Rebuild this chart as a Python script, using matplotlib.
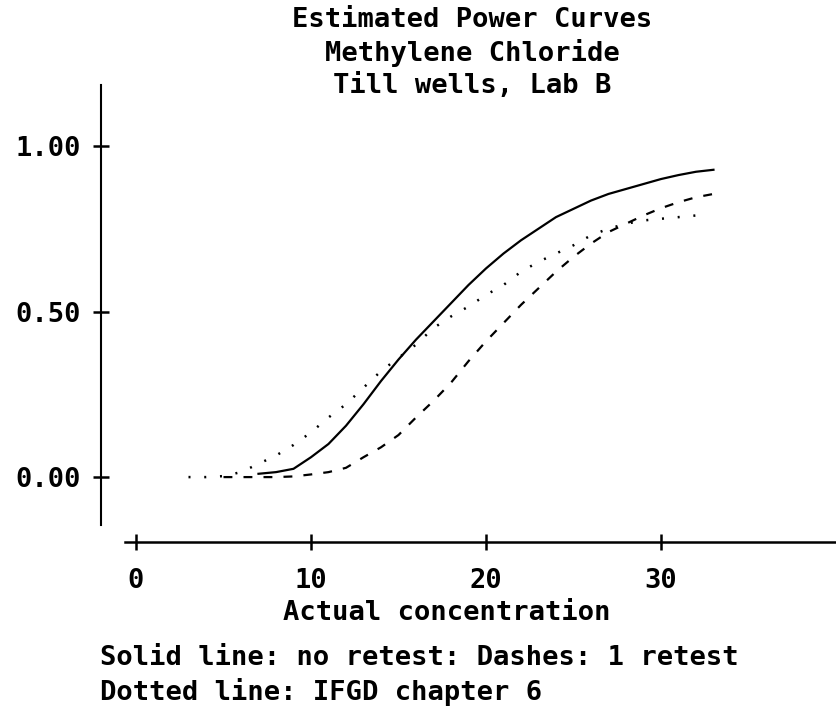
import matplotlib.pyplot as plt

# power curve estimates, read per unit of concentration
solid_x = [7, 8, 9, 10, 11, 12, 13, 14, 15, 16, 17, 18, 19, 20,
           21, 22, 23, 24, 25, 26, 27, 28, 29, 30, 31, 32, 33]
solid_y = [0.01, 0.015, 0.025, 0.06, 0.10, 0.155, 0.22, 0.29, 0.355, 0.415, 0.47, 0.525, 0.58, 0.63,
           0.675, 0.715, 0.75, 0.785, 0.81, 0.835, 0.855, 0.87, 0.885, 0.90, 0.912, 0.922, 0.928]

dash_x = [5, 6, 7, 8, 9, 10, 11, 12, 13, 14, 15, 16, 17, 18, 19,
          20, 21, 22, 23, 24, 25, 26, 27, 28, 29, 30, 31, 32, 33]
dash_y = [0.0, 0.0, 0.0, 0.0, 0.002, 0.008, 0.015, 0.028, 0.06, 0.09, 0.127, 0.18, 0.23, 0.285, 0.35,
          0.41, 0.465, 0.52, 0.57, 0.62, 0.665, 0.705, 0.74, 0.765, 0.79, 0.812, 0.83, 0.845, 0.855]

dot_x = [3, 4, 5, 6, 7, 8, 9, 10, 11, 12, 13, 14, 15, 16, 17,
         18, 19, 20, 21, 22, 23, 24, 25, 26, 27, 28, 29, 30, 31, 32]
dot_y = [0.0, 0.0, 0.003, 0.015, 0.04, 0.065, 0.097, 0.135, 0.18, 0.22, 0.27, 0.32, 0.36, 0.40, 0.45,
         0.485, 0.515, 0.55, 0.58, 0.62, 0.65, 0.675, 0.70, 0.73, 0.75, 0.765, 0.775, 0.78, 0.785, 0.79]

xticks = [0, 10, 20, 30]
yticks = [0.0, 0.5, 1.0]
ytick_labels = ["0.00", "0.50", "1.00"]

title_lines = ["Estimated Power Curves", "Methylene Chloride", "Till wells, Lab B"]
xlabel = "Actual concentration"
notes = ["Solid line: no retest: Dashes: 1 retest", "Dotted line: IFGD chapter 6"]

W, H = 837, 707
plt.rcParams['font.family'] = 'DejaVu Sans Mono'
plt.rcParams['font.weight'] = 'bold'
fs = 19.5

fig = plt.figure(figsize=(W / 100, H / 100), dpi=100)

# axes box in pixels: left 101, right 837, top 85, bottom 542
ax = fig.add_axes([101 / W, (H - 542) / H, (W - 101) / W, (542 - 85) / H])
ax.set_xlim(-2.0, 40.06)
ax.set_ylim(-0.196, 1.184)

ax.plot(solid_x, solid_y, color='black', lw=1.6)
ax.plot(dash_x, dash_y, color='black', lw=1.6, linestyle=(0, (4, 5)))
ax.plot(dot_x, dot_y, color='black', lw=1.8, linestyle=(0, (0.8, 5.5)))

for s in ['top', 'right']:
    ax.spines[s].set_visible(False)
ax.spines['left'].set_bounds(-0.145, 1.184)
ax.spines['bottom'].set_bounds(-0.63, 40.06)
ax.spines['left'].set_linewidth(1.5)
ax.spines['bottom'].set_linewidth(1.8)

ax.set_xticks(xticks)
ax.set_xticklabels([str(t) for t in xticks])
ax.set_yticks(yticks)
ax.set_yticklabels(ytick_labels)
ax.tick_params(axis='both', direction='inout', length=11, width=1.8,
               labelsize=fs, color='black')
ax.tick_params(axis='x', pad=13)
ax.tick_params(axis='y', pad=9)

for i, line in enumerate(title_lines):
    fig.text(472 / W, 1 - (20 + 33 * i) / H, line, ha='center', va='center',
             fontsize=fs, fontweight='bold')

fig.text(283 / W, 1 - 613 / H, xlabel, ha='left', va='center',
         fontsize=fs, fontweight='bold')

for i, line in enumerate(notes):
    fig.text(100 / W, 1 - (658 + 34 * i) / H, line, ha='left', va='center',
             fontsize=fs, fontweight='bold')

fig.savefig('out.png', dpi=100)
